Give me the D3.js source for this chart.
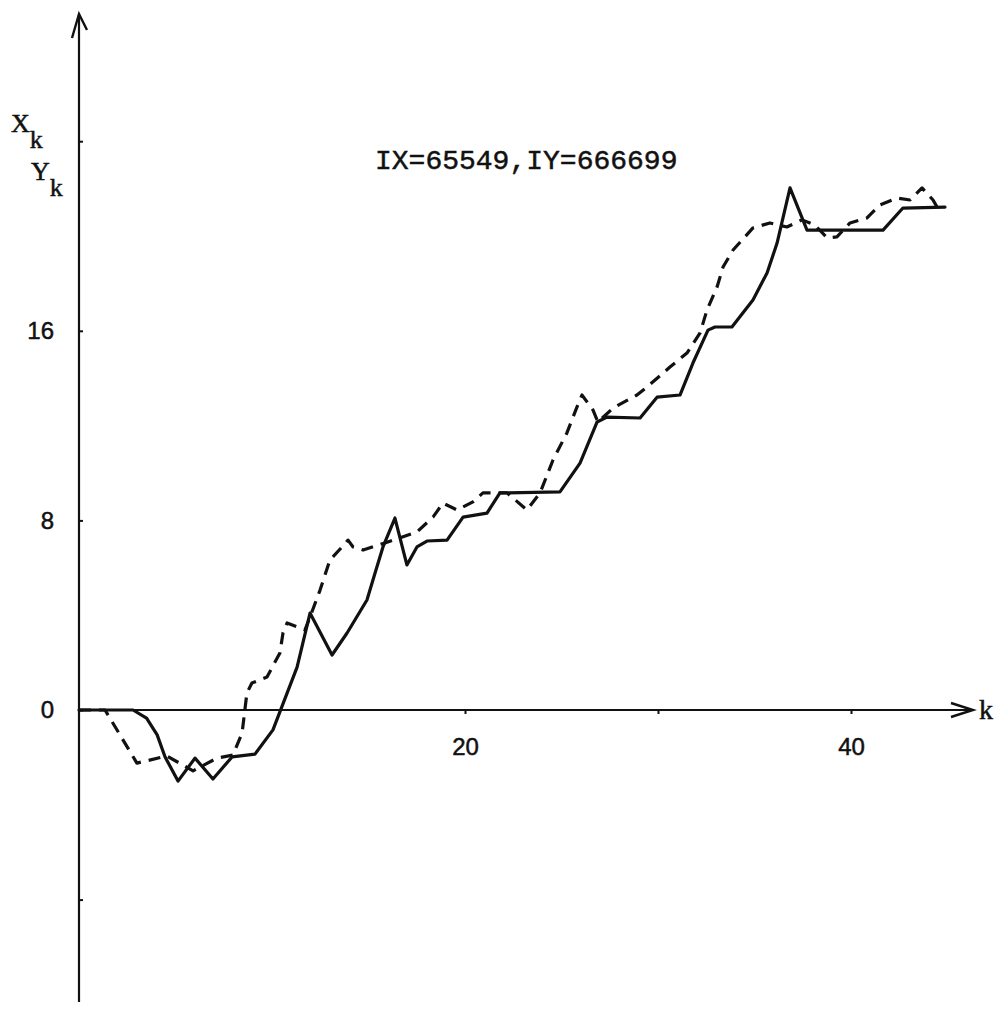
<!DOCTYPE html>
<html>
<head>
<meta charset="utf-8">
<script src="https://cdn.jsdelivr.net/npm/d3@7"></script>
<style>
  html, body { margin: 0; padding: 0; background: #fff; }
  svg { display: block; }
  text { stroke: #111; stroke-width: 0.5px; }
</style>
</head>
<body>
<svg id="chart" width="1005" height="1010"></svg>
<script>
// Random-walk sequences X_k (solid) and Y_k (dashed), vertices as drawn
const kSolid = [0, 2.8, 3.5, 4.05, 4.46, 5.13, 6.01, 6.94, 7.93, 9.12, 10.05, 11.3, 11.97, 13.11, 13.89, 14.92, 15.34, 15.75, 16.37, 16.99, 17.51, 18.03, 19.07, 19.9, 21.14, 21.81, 24.92, 25.96, 26.84, 27.36, 29.07, 29.95, 31.14, 31.81, 32.59, 32.95, 33.83, 34.92, 35.65, 36.17, 36.84, 37.72, 41.66, 42.69, 44.87];
const xValues = [0, 0, -0.34, -1.05, -1.98, -3.0, -2.03, -2.91, -1.98, -1.86, -0.84, 1.81, 4.09, 2.32, 3.25, 4.64, 5.78, 6.88, 8.10, 6.12, 6.88, 7.13, 7.17, 8.14, 8.31, 9.16, 9.2, 10.42, 12.15, 12.36, 12.32, 13.2, 13.29, 14.64, 16.03, 16.16, 16.16, 17.3, 18.44, 19.7, 22.03, 20.25, 20.25, 21.18, 21.22];

const kDashed = [0, 1.35, 3.0, 4.56, 5.91, 7.15, 7.98, 8.45, 8.7, 8.96, 9.74, 10.41, 10.57, 10.78, 11.71, 11.97, 12.49, 13.0, 13.63, 13.94, 14.2, 14.72, 15.85, 17.51, 18.34, 18.86, 19.59, 20.41, 20.93, 22.18, 23.21, 23.89, 24.56, 25.28, 25.8, 26.06, 26.63, 26.89, 27.67, 28.91, 29.43, 30.62, 31.5, 32.18, 32.54, 33.06, 33.37, 33.89, 34.92, 35.8, 36.68, 37.46, 38.13, 38.76, 39.27, 39.95, 40.83, 41.5, 42.38, 43.06, 43.68, 44.25, 44.46];
const yValues = [0, 0, -2.24, -1.94, -2.57, -2.03, -1.9, -0.97, 0.72, 1.14, 1.39, 2.41, 3.25, 3.67, 3.38, 3.92, 5.06, 6.33, 6.88, 7.17, 6.88, 6.75, 7.05, 7.51, 8.14, 8.73, 8.44, 8.78, 9.16, 9.16, 8.44, 9.16, 10.55, 11.69, 12.78, 13.29, 12.66, 12.15, 12.74, 13.29, 13.63, 14.47, 15.06, 15.91, 16.88, 17.85, 18.69, 19.41, 20.34, 20.55, 20.38, 20.68, 20.46, 19.92, 19.96, 20.55, 20.76, 21.31, 21.6, 21.52, 22.03, 21.52, 21.22];

// Axis ticks and labels
const kTicks = [20, 30, 40];
const kTickLabels = ["20", "", "40"];
const vTicks = [-8, 0, 8, 16, 24];
const vTickLabels = ["", "0", "8", "16", ""];

const titleText = "IX=65549,IY=666699";

const svg = d3.select("#chart");

const x = d3.scaleLinear().domain([0, 40]).range([79, 851]);
const y = d3.scaleLinear().domain([0, 16]).range([710, 330.8]);

const ink = "#111";

// Axis lines with open arrowheads
const xEnd = 973, yTop = 14, yBottom = 1002;
svg.append("line")
  .attr("x1", x(0)).attr("x2", xEnd)
  .attr("y1", y(0)).attr("y2", y(0))
  .attr("stroke", ink).attr("stroke-width", 2.2);
svg.append("path")
  .attr("d", `M${xEnd - 22},${y(0) - 7} L${xEnd},${y(0)} L${xEnd - 22},${y(0) + 7}`)
  .attr("fill", "none").attr("stroke", ink).attr("stroke-width", 2.4);

svg.append("line")
  .attr("x1", x(0)).attr("x2", x(0))
  .attr("y1", yBottom).attr("y2", yTop)
  .attr("stroke", ink).attr("stroke-width", 2.2);
svg.append("path")
  .attr("d", `M${x(0) - 7},${yTop + 24} L${x(0)},${yTop} L${x(0) + 8},${yTop + 16}`)
  .attr("fill", "none").attr("stroke", ink).attr("stroke-width", 2.4);

// k axis ticks
const xAxis = d3.axisBottom(x)
  .tickValues(kTicks)
  .tickSize(4)
  .tickPadding(24)
  .tickFormat((d, i) => kTickLabels[i]);
const gx = svg.append("g").attr("transform", `translate(0,${y(0)})`).call(xAxis);
gx.select(".domain").remove();
gx.selectAll(".tick line").attr("stroke", ink).attr("stroke-width", 2);
gx.selectAll(".tick text")
  .attr("fill", ink)
  .style("font-family", "'Liberation Sans', Arial, sans-serif")
  .style("font-size", "24px");

// value axis ticks (marks on the right of the axis, labels to the left)
const yAxis = d3.axisLeft(y)
  .tickValues(vTicks)
  .tickSizeInner(-4)
  .tickSizeOuter(0)
  .tickPadding(25)
  .tickFormat((d, i) => vTickLabels[i]);
const gy = svg.append("g").attr("transform", `translate(${x(0)},0)`).call(yAxis);
gy.select(".domain").remove();
gy.selectAll(".tick line").attr("stroke", ink).attr("stroke-width", 2);
gy.selectAll(".tick text")
  .attr("x", -25)
  .attr("fill", ink)
  .style("font-family", "'Liberation Sans', Arial, sans-serif")
  .style("font-size", "24px");

// Series
const solidPts = kSolid.map((k, i) => [k, xValues[i]]);
const dashedPts = kDashed.map((k, i) => [k, yValues[i]]);

const line = d3.line()
  .x(d => x(d[0]))
  .y(d => y(d[1]))
  .curve(d3.curveLinear);

svg.append("path")
  .datum(dashedPts)
  .attr("d", line)
  .attr("fill", "none")
  .attr("stroke", ink)
  .attr("stroke-width", 3.2)
  .attr("stroke-dasharray", "12 8")
  .attr("stroke-linejoin", "round");

svg.append("path")
  .datum(solidPts)
  .attr("d", line)
  .attr("fill", "none")
  .attr("stroke", ink)
  .attr("stroke-width", 3.2)
  .attr("stroke-linejoin", "round")
  .attr("stroke-linecap", "round");

// Labels
const serif = "'Liberation Serif', 'DejaVu Serif', serif";
const mono = "'Liberation Mono', 'DejaVu Sans Mono', monospace";

svg.append("text")
  .attr("x", 375).attr("y", 169)
  .attr("fill", ink)
  .style("font-family", mono)
  .style("font-size", "28px")
  .text(titleText);

function subLabel(xp, yp, main) {
  const t = svg.append("text")
    .attr("x", xp).attr("y", yp)
    .attr("fill", ink)
    .style("font-family", serif)
    .style("font-size", "26px");
  t.append("tspan").text(main);
  t.append("tspan").attr("dy", 16).text("k");
}
subLabel(11, 132, "X");
subLabel(31, 180, "Y");

svg.append("text")
  .attr("x", 979).attr("y", 719)
  .attr("fill", ink)
  .style("font-family", serif)
  .style("font-size", "28px")
  .text("k");
</script>
</body>
</html>
